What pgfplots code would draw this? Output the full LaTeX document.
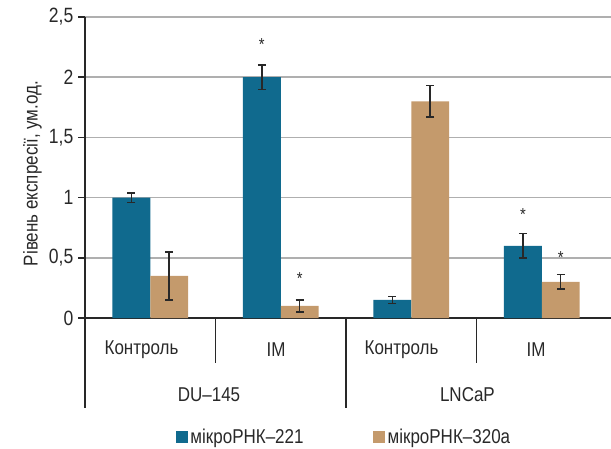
\documentclass[border=0pt]{standalone}
\usepackage{fontspec}
\setmainfont{Liberation Sans}[FakeStretch=0.85]
\usepackage{pgfplots}
\usepackage{pgfplotstable}
\pgfplotsset{compat=1.18}
\definecolor{cblue}{RGB}{16,106,142}
\definecolor{ctan}{RGB}{196,154,108}
\definecolor{ctext}{RGB}{40,40,40}
\definecolor{cgrid}{RGB}{175,175,175}
\pgfplotstableread{
x y e
0 1.00 0.04
1 2.00 0.10
2 0.15 0.03
3 0.60 0.10
}\tblue
\pgfplotstableread{
x y e
0 0.35 0.20
1 0.10 0.05
2 1.80 0.13
3 0.30 0.06
}\ttan
\newcommand{\lf}{\fontsize{15}{17}\selectfont}
\begin{document}
\begin{tikzpicture}
\useasboundingbox (0,0) rectangle (458.25pt,-336.75pt);
\begin{axis}[
 at={(63.75pt,-238.5pt)}, anchor=south west,
 scale only axis, width=394.5pt, height=225.75pt,
 xmin=-0.5, xmax=3.53, ymin=0, ymax=2.5,
 axis lines*=left,
 axis line style={ctext, line width=1.1pt},
 xtick=\empty,
 ytick={0,0.5,1,1.5,2,2.5},
 yticklabels={0,{0,5},1,{1,5},2,{2,5}},
 tick align=outside, major tick length=5.25pt,
 tick style={ctext, line width=1.1pt},
 ymajorgrids, grid style={cgrid, line width=1.1pt},
 yticklabel style={font=\fontsize{15.5}{17}\selectfont, text=ctext},
 ylabel={Рівень експресії, ум.од.},
 ylabel style={at={(axis description cs:-0.1,0.48)}, anchor=center, font=\fontsize{15}{17}\selectfont, text=ctext},
 clip=false,
 legend style={at={(rel axis cs:0.493,-0.395)}, anchor=center, draw=none, fill=none,
   legend columns=2, font=\lf, text=ctext,
   /tikz/every even column/.append style={column sep=50pt}},
 legend image code/.code={\fill[#1] (0pt,-4.5pt) rectangle (9pt,4.5pt);},
]
\addplot[ybar, bar width=0.29, bar shift=0pt, fill=cblue, draw=none,
  error bars/.cd, y dir=both, y explicit,
  error bar style={draw=ctext, line width=1.1pt},
  error mark options={draw=ctext, line width=1.1pt, mark size=3pt, rotate=90}]
  table[x expr=\thisrow{x}-0.145, y=y, y error=e] {\tblue};
\addlegendentry{мікроРНК–221}
\addplot[ybar, bar width=0.29, bar shift=0pt, fill=ctan, draw=none,
  error bars/.cd, y dir=both, y explicit,
  error bar style={draw=ctext, line width=1.1pt},
  error mark options={draw=ctext, line width=1.1pt, mark size=3pt, rotate=90}]
  table[x expr=\thisrow{x}+0.145, y=y, y error=e] {\ttan};
\addlegendentry{мікроРНК–320а}
\addplot[only marks, mark=text, text mark={\fontsize{13}{13}\selectfont\color{ctext}*}, forget plot]
  coordinates {(0.855,2.27) (1.145,0.33) (2.855,0.86) (3.145,0.5)};
\draw[ctext, line width=1.1pt] (axis cs:-0.5,0) -- ++(0pt,-67.5pt);
\draw[ctext, line width=1.1pt] (axis cs:1.5,0) -- ++(0pt,-67.5pt);
\draw[ctext, line width=1.1pt] (axis cs:0.5,0) -- ++(0pt,-33.75pt);
\draw[ctext, line width=1.1pt] (axis cs:2.5,0) -- ++(0pt,-33.75pt);
\node[font=\lf, text=ctext] at ([yshift=-24pt]axis cs:-0.067,0) {Контроль};
\node[font=\lf, text=ctext] at ([yshift=-24pt]axis cs:0.964,0) {IM};
\node[font=\lf, text=ctext] at ([yshift=-24pt]axis cs:1.925,0) {Контроль};
\node[font=\lf, text=ctext] at ([yshift=-24pt]axis cs:2.956,0) {IM};
\node[font=\lf, text=ctext] at ([yshift=-57.75pt]axis cs:0.45,0) {DU–145};
\node[font=\lf, text=ctext] at ([yshift=-57.75pt]axis cs:2.43,0) {LNCaP};
\end{axis}
\end{tikzpicture}
\end{document}
